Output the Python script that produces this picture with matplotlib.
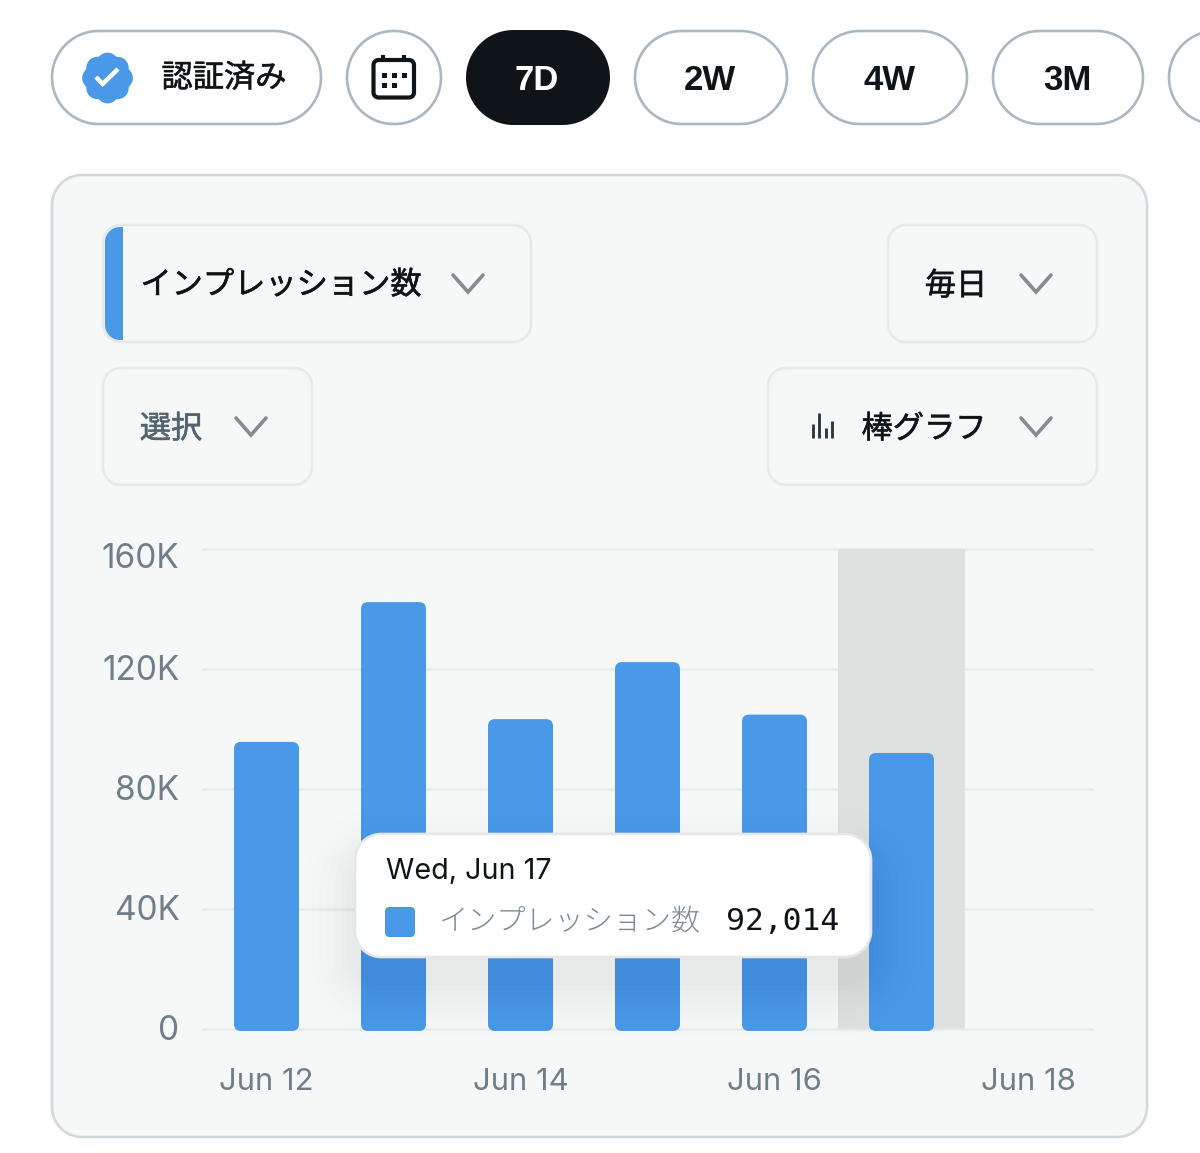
import numpy as np
import matplotlib
matplotlib.use('Agg')
import matplotlib.pyplot as plt
import matplotlib.patheffects as pe
from matplotlib.patches import FancyBboxPatch, Polygon, Rectangle
from matplotlib.transforms import ScaledTranslation

plt.rcParams['font.family'] = ['Inter', 'Noto Sans CJK JP', 'DejaVu Sans']

# data
days = ['Jun 12', 'Jun 13', 'Jun 14', 'Jun 15', 'Jun 16', 'Jun 17', 'Jun 18']
impressions = [95700, 142300, 103300, 122300, 104800, 92014]
y_ticks = [0, 40000, 80000, 120000, 160000]
y_labels = ['0', '40K', '80K', '120K', '160K']
x_ticks = [0, 2, 4, 6]
x_labels = ['Jun 12', 'Jun 14', 'Jun 16', 'Jun 18']
selected = 5
range_labels = ['7D', '2W', '4W', '3M']

W, H = 1200, 1153
BLUE = '#4a99e9'
INK = '#0f1419'
PANEL = '#f6f8f8'

fig = plt.figure(figsize=(12, 11.53), dpi=100, facecolor='white')


def pixel_axes(z):
    a = fig.add_axes([0, 0, 1, 1], zorder=z)
    a.set_xlim(0, W)
    a.set_ylim(H, 0)
    a.axis('off')
    a.patch.set_alpha(0)
    return a


def box(a, x0, y0, x1, y1, r, **kw):
    # true circular corners, FancyBboxPatch corners come out too square on pills
    pts = []
    for cx, cy, start in [(x1 - r, y0 + r, -90), (x1 - r, y1 - r, 0),
                          (x0 + r, y1 - r, 90), (x0 + r, y0 + r, 180)]:
        ang = np.radians(np.linspace(start, start + 90, 24))
        pts.append(np.c_[cx + r * np.cos(ang), cy + r * np.sin(ang)])
    p = Polygon(np.vstack(pts), closed=True, **kw)
    a.add_patch(p)
    return p


def chevron(a, cx, cy):
    a.plot([cx - 15, cx, cx + 15], [cy - 9, cy + 8, cy - 9], color='#838c93', lw=2.6,
           solid_capstyle='round', solid_joinstyle='miter')


def jp_text(a, x, y, s, color=INK):
    a.text(x, y, s, ha='center', va='center', fontsize=22.5, color=color,
           family='Noto Sans CJK JP',
           path_effects=[pe.withStroke(linewidth=0.4, foreground=color)])


bg = pixel_axes(0)

# pills on top
pill_edge = '#a9b8c2'
box(bg, 52, 31, 321, 124, 46.5, fc='white', ec=pill_edge, lw=1.9)
box(bg, 347, 31, 441, 124, 46.5, fc='white', ec=pill_edge, lw=1.9)
box(bg, 466, 30, 610, 125, 47.5, fc=INK, ec='none')
box(bg, 635, 31, 787, 124, 46.5, fc='white', ec=pill_edge, lw=1.9)
box(bg, 813, 31, 967, 124, 46.5, fc='white', ec=pill_edge, lw=1.9)
box(bg, 993, 31, 1143, 124, 46.5, fc='white', ec=pill_edge, lw=1.9)
box(bg, 1169, 31, 1300, 124, 46.5, fc='white', ec=pill_edge, lw=1.9)

range_x = [537, 710, 889, 1067]
range_col = ['white', INK, INK, INK]
for lab, x, c in zip(range_labels, range_x, range_col):
    bg.text(x, 77.5, lab, ha='center', va='center_baseline', fontsize=25, color=c,
            family='Liberation Sans', weight='bold')

# verified badge
t = np.linspace(0, 2 * np.pi, 720)
rad = 23 + 2.4 * np.abs(np.cos(4 * t))
bg.add_patch(Polygon(np.c_[107.5 + rad * np.sin(t), 78 + rad * np.cos(t)], fc=BLUE, ec='none'))
bg.plot([96, 102.5, 118], [77, 84, 69], color='white', lw=3.2, solid_capstyle='butt',
        solid_joinstyle='miter')
jp_text(bg, 224, 78, '認証済み')

# calendar icon
box(bg, 373.5, 60, 414, 97.5, 5, fc='none', ec=INK, lw=3)
bg.plot([383, 383], [55, 61], color=INK, lw=3, solid_capstyle='butt')
bg.plot([403.5, 403.5], [55, 61], color=INK, lw=3, solid_capstyle='butt')
for dx, dy in [(384, 75), (394, 75), (404, 75), (384, 85), (394, 85)]:
    bg.add_patch(Rectangle((dx - 2.5, dy - 2.5), 5, 5, fc=INK, ec='none'))

# panel
box(bg, 52, 175, 1147, 1137, 30, fc=PANEL, ec='#d0dade', lw=1.9)

# dropdowns
drop_edge = '#e4e9ec'
box(bg, 103, 225, 531, 342, 18, fc=PANEL, ec=drop_edge, lw=1.9)
box(bg, 888, 225, 1097, 342, 18, fc=PANEL, ec=drop_edge, lw=1.9)
box(bg, 103, 368, 312, 485, 18, fc=PANEL, ec=drop_edge, lw=1.9)
box(bg, 768, 368, 1097, 485, 18, fc=PANEL, ec=drop_edge, lw=1.9)

strip = box(bg, 105, 227, 160, 340, 15, fc=BLUE, ec='none')
strip.set_clip_path(Rectangle((105, 227), 17.5, 113, transform=bg.transData))

jp_text(bg, 281, 285, 'インプレッション数')
jp_text(bg, 956, 286, '毎日')
jp_text(bg, 171, 429, '選択', color='#536471')
jp_text(bg, 924, 429, '棒グラフ')
chevron(bg, 468, 284)
chevron(bg, 1036, 284)
chevron(bg, 251, 427)
chevron(bg, 1036, 427)

# small bar icon
for bx, by in [(812.7, 424), (819.3, 412.7), (825.7, 428), (832.3, 420.7)]:
    bg.plot([bx, bx], [by, 438], color='#2f3b44', lw=2.1, solid_capstyle='butt')

# chart
ax = fig.add_axes([203 / W, 1 - 1029 / H, 889 / W, 480 / H], zorder=1)
ax.patch.set_alpha(0)
ax.set_xlim(-0.5, len(days) - 0.5)
ax.set_ylim(0, 160000)
for s in ax.spines.values():
    s.set_visible(False)
ax.set_axisbelow(True)
ax.grid(axis='y', color='#e6ebf0', lw=1.9, clip_on=False)
ax.set_yticks(y_ticks, y_labels)
ax.set_xticks(x_ticks, x_labels)
ax.tick_params(length=0, labelcolor='#6f7f8a')
ax.tick_params(axis='y', pad=17, labelsize=24)
ax.tick_params(axis='x', pad=28, labelsize=22.3)
for lab in ax.get_yticklabels():
    lab.set_transform(lab.get_transform() + ScaledTranslation(0, 1.5 / 100, fig.dpi_scale_trans))
top_lab = ax.get_yticklabels()[-1]
top_lab.set_transform(top_lab.get_transform() + ScaledTranslation(0, -8 / 100, fig.dpi_scale_trans))

ax.axvspan(selected - 0.5, selected + 0.5, color='#dfe1e1', lw=0, zorder=1)

# rounded bars, sized from the axis scale
px_x = 889 / len(days)
px_y = 480 / 160000
for i, v in enumerate(impressions):
    under = 2 / px_y
    p = FancyBboxPatch((i - 32.5 / px_x, -under), 65 / px_x, v + under,
                       boxstyle=f'round,pad=0,rounding_size={7 / px_x}',
                       mutation_aspect=px_x / px_y, fc=BLUE, ec='none', zorder=2, clip_on=False)
    ax.add_patch(p)

# tooltip
top = pixel_axes(2)
for grow, a in zip([52, 44, 36, 28, 21, 14, 8, 3], [0.004, 0.005, 0.006, 0.007, 0.008, 0.008, 0.008, 0.008]):
    box(top, 355 - grow, 834 - grow + 26, 871 + grow, 957 + grow + 26, 26 + grow,
        fc='black', ec='none', alpha=a)
box(top, 355, 834, 871, 957, 26, fc='white', ec='#e4e8eb', lw=1.9)
top.text(386, 871, 'Wed, Jun 17', ha='left', va='center', fontsize=20.7, color=INK)
box(top, 385, 907, 415, 937, 4, fc=BLUE, ec='none')
top.text(569, 921, 'インプレッション数', ha='center', va='center', fontsize=21, color='#7b8a94',
         family='Noto Sans CJK JP', weight='light')
top.text(839, 921, '92,014', ha='right', va='center', fontsize=22.6, color=INK,
         family='DejaVu Sans Mono')

fig.savefig('out.png', dpi=100)
